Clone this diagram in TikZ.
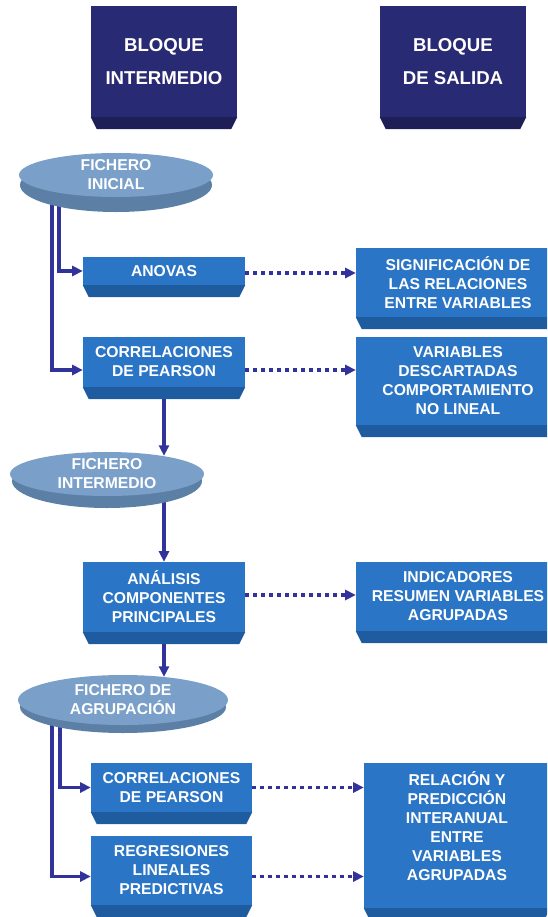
\documentclass[tikz,border=0pt]{standalone}
\usepackage{fontspec}
\setmainfont{Liberation Sans}
\usetikzlibrary{arrows.meta,shapes.geometric,calc,backgrounds}
\definecolor{flowNavy}{HTML}{292A74}
\definecolor{flowNavyDk}{HTML}{1F1F58}
\definecolor{flowBlue}{HTML}{2A75C5}
\definecolor{flowBlueDk}{HTML}{1F5C9F}
\definecolor{flowDisc}{HTML}{7AA0C9}
\definecolor{flowDiscDk}{HTML}{5C7FA6}
\definecolor{flowArrow}{HTML}{31339A}

\begin{document}
\begin{tikzpicture}[x=0.03cm,y=-0.03cm,
      hdr/.style={fill=flowNavy,text=white,minimum width=4.38cm,minimum height=3.33cm,align=center,inner sep=0pt,font=\fontsize{15.9}{28}\selectfont\bfseries},
      box/.style={fill=flowBlue,text=white,align=center,inner sep=0pt,font=\fontsize{13.4}{16.2}\selectfont\bfseries},
      disc/.style={ellipse,fill=flowDisc,text=white,align=center,inner sep=0pt,font=\fontsize{13.4}{16.2}\selectfont\bfseries},
      flow/.style={-{Triangle[length=9pt,width=8.5pt]},flowArrow,line width=2.6pt},
      link/.style={-{Triangle[length=9pt,width=8.5pt]},flowArrow,line width=3pt,dash pattern=on 3.4pt off 3.4pt}]
    \useasboundingbox (0,0) rectangle (547,917);
    \clip (0,0) rectangle (547,917);
    % column heads
    \node[hdr] (hint) at (164,61.5) {BLOQUE\\INTERMEDIO};
    \node[hdr] (hsal) at (453,61.5) {BLOQUE\\DE SALIDA};
    \foreach \n in {hint,hsal}
      \fill[flowNavyDk] (\n.south west) -- (\n.south east) -- ++(-6,12) -- ($(\n.south west)+(6,12)$) -- cycle;
    % files
    \fill[flowDiscDk] (116,185) ellipse [x radius=2.88cm, y radius=0.81cm];
    \node[disc,minimum width=5.82cm,minimum height=1.32cm] (fini) at (116,175) {FICHERO\\INICIAL};
    \fill[flowDiscDk] (107,481) ellipse [x radius=2.85cm, y radius=0.81cm];
    \node[disc,minimum width=5.82cm,minimum height=1.32cm] (fint) at (107,474) {FICHERO\\INTERMEDIO};
    \fill[flowDiscDk] (123,707) ellipse [x radius=3.09cm, y radius=0.78cm];
    \node[disc,minimum width=6.3cm,minimum height=1.5cm] (fagr) at (123,700) {FICHERO DE\\AGRUPACIÓN};
    % processes
    \node[box,minimum width=4.86cm,minimum height=0.84cm] (anovas) at (164,271) {ANOVAS};
    \node[box,minimum width=4.86cm,minimum height=1.5cm] (corr1) at (164,362) {CORRELACIONES\\DE PEARSON};
    \node[box,minimum width=4.86cm,minimum height=2.1cm] (analisis) at (164,597) {ANÁLISIS\\COMPONENTES\\PRINCIPALES};
    \node[box,minimum width=4.83cm,minimum height=1.47cm] (corr2) at (171.5,787.5) {CORRELACIONES\\DE PEARSON};
    \node[box,minimum width=4.83cm,minimum height=2.07cm] (regres) at (171.5,870.5) {REGRESIONES\\LINEALES\\PREDICTIVAS};
    % results
    \node[box,minimum width=6.12cm,minimum height=2.07cm] (signif) at (458,282.5) {SIGNIFICACIÓN DE\\LAS RELACIONES\\ENTRE VARIABLES};
    \node[box,minimum width=6.12cm,minimum height=2.64cm] (descart) at (458,381) {VARIABLES\\DESCARTADAS\\COMPORTAMIENTO\\NO LINEAL};
    \node[box,minimum width=6.12cm,minimum height=2.07cm] (indic) at (458,596.5) {INDICADORES\\RESUMEN VARIABLES\\AGRUPADAS};
    \node[box,minimum width=5.58cm,minimum height=4.35cm,text depth=16.2pt] (relac) at (457,835.5) {RELACIÓN Y\\PREDICCIÓN\\INTERANUAL\\ENTRE\\VARIABLES\\AGRUPADAS};
    \foreach \n in {anovas,corr1,analisis,corr2,regres,signif,descart,indic,relac}
      \fill[flowBlueDk] (\n.south west) -- (\n.south east) -- ++(-6,12) -- ($(\n.south west)+(6,12)$) -- cycle;
    % flow
    \begin{scope}[on background layer]
      \draw[flow] ($(fini.center)+(-57,0)$) |- (anovas.west);
      \draw[flow] ($(fini.center)+(-64,0)$) |- ($(corr1.west)+(0,8)$);
      \draw[flow] (corr1.south) -- (corr1.south |- fint.18);
      \draw[flow] (analisis.north |- fint.center) -- (analisis.north);
      \draw[flow] (analisis.south) -- (analisis.south |- fagr.29);
      \draw[flow] ($(fagr.center)+(-63,0)$) |- (corr2.west);
      \draw[flow] ($(fagr.center)+(-71,0)$) |- ($(regres.west)+(0,6)$);
    \end{scope}
    \foreach \a/\b/\d in {anovas/signif/2,corr1/descart/8,analisis/indic/-2,corr2/relac/0,regres/relac/6}
      \draw[link] ($(\a.east)+(0,\d)$) -- ($(\a.east -| \b.west)+(0,\d)$);
  \end{tikzpicture}
\end{document}
